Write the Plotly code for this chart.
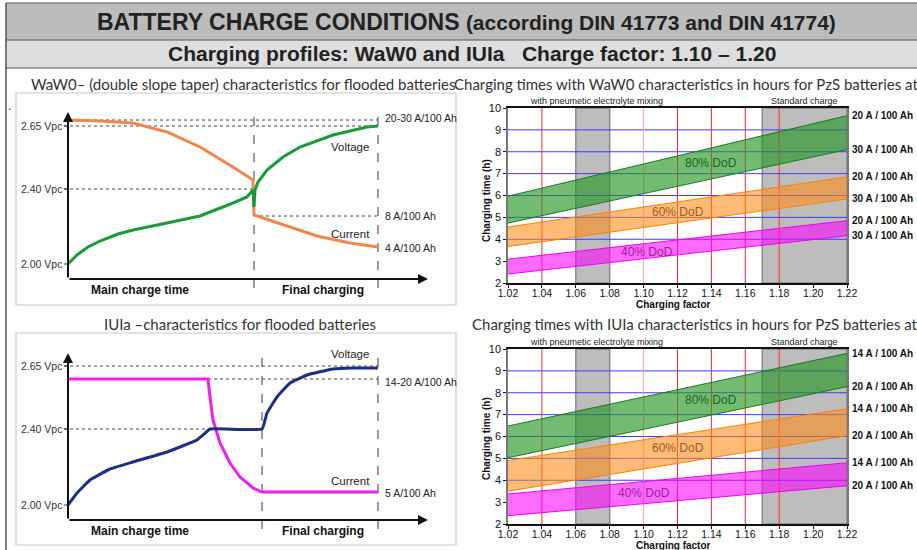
import plotly.graph_objects as go

W, H = 917, 550
def fx(px): return px / W
def fy(py): return 1 - py / H

# ---------------- DATA ----------------
# Schematic panels (time units 0..310, level units: axis baseline = 0)
vpc_levels = [153, 90, 15]
vpc_labels = ["2.65 Vpc", "2.40 Vpc", "2.00 Vpc"]
main_end_t = 186
final_end_t = 310

waw_t_cur = [0, 32, 65, 99, 132, 165, 185, 186, 189, 215, 249, 282, 310]
waw_cur = [159, 158, 156, 147, 132, 112, 99, 64, 63, 54, 43, 36, 32]
waw_t_vol = [0, 9, 20, 32, 50, 65, 99, 132, 165, 179, 185, 186, 187, 190, 199, 215, 232, 265, 299, 310]
waw_vol = [15, 24, 32, 38, 45, 49, 56, 63, 76, 82, 89, 72, 89, 97, 109, 122, 132, 144, 152, 153]
waw_cur_levels = [161, 63, 31]
waw_cur_labels = ["20-30 A/100 Ah", "8 A/100 Ah", "4 A/100 Ah"]

iu_main_end_t = 194
iu_vpc_levels = [154, 91, 15]
iu_t_cur = [0, 140, 142, 145, 152, 162, 172, 185, 194, 310]
iu_cur = [141, 141, 123, 100, 77, 57, 43, 32, 28, 28]
iu_t_vol = [0, 9, 22, 42, 65, 99, 129, 135, 142, 194, 199, 209, 222, 239, 265, 285, 310]
iu_vol = [15, 27, 40, 51, 58, 68, 80, 85, 91, 91, 107, 123, 137, 145, 151, 152, 152]
iu_cur_levels = [138, 27]
iu_cur_labels = ["14-20 A/100 Ah", "5 A/100 Ah"]

# Charging-time charts
factor = [1.02, 1.22]
x_ticks = [1.02, 1.04, 1.06, 1.08, 1.10, 1.12, 1.14, 1.16, 1.18, 1.20, 1.22]
x_tick_labels = ["1.02", "1.04", "1.06", "1.08", "1.10", "1.12", "1.14", "1.16", "1.18", "1.20", "1.22"]
y_ticks = [2, 3, 4, 5, 6, 7, 8, 9, 10]
red_lines = [1.04, 1.12, 1.14, 1.16, 1.18]
pink_lines = [1.10]
blue_lines = [4, 5, 6, 7, 8, 9]
gray_bands = [(1.06, 1.08), (1.17, 1.22)]

waw_bands = {
    "80% DoD": ([4.74, 8.10], [5.97, 9.65]),
    "60% DoD": ([3.67, 5.84], [4.56, 6.85]),
    "40% DoD": ([2.41, 4.16], [3.09, 4.85]),
}
waw_band_label_pos = {"80% DoD": (1.14, 7.48), "60% DoD": (1.12, 5.23), "40% DoD": (1.102, 3.42)}
waw_end_labels = ["20 A / 100 Ah", "30 A / 100 Ah"]

iu_bands = {
    "80% DoD": ([5.03, 8.28], [6.48, 9.80]),
    "60% DoD": ([3.50, 6.04], [4.90, 7.27]),
    "40% DoD": ([2.38, 3.75], [3.37, 4.80]),
}
iu_band_label_pos = {"80% DoD": (1.14, 7.67), "60% DoD": (1.12, 5.46), "40% DoD": (1.10, 3.40)}
iu_end_labels = ["14 A / 100 Ah", "20 A / 100 Ah"]

band_style = {
    "80% DoD": ("rgba(40,150,40,0.65)", "#1a7a1a", "#1f5f1f"),
    "60% DoD": ("rgba(255,140,20,0.58)", "#ff8000", "#9a5a20"),
    "40% DoD": ("rgba(255,0,255,0.58)", "#f000f0", "#9a209a"),
}

ARIAL = "Liberation Sans, Arial, sans-serif"
TITLEF = "Lato, Open Sans, sans-serif"

fig = go.Figure()
shapes = []
ann = []

def note(**kw):
    kw.setdefault("showarrow", False)
    kw.setdefault("xanchor", "center")
    kw.setdefault("yanchor", "middle")
    ann.append(kw)

# ---------------- header ----------------
shapes += [
    dict(type="rect", xref="paper", yref="paper", x0=fx(6), x1=1, y0=fy(40), y1=fy(3),
         fillcolor="#bcbcbc", line=dict(width=0), layer="below"),
    dict(type="rect", xref="paper", yref="paper", x0=fx(6), x1=1, y0=fy(68), y1=fy(40),
         fillcolor="#dedede", line=dict(width=0), layer="below"),
]
for py in (3, 40, 68):
    shapes.append(dict(type="line", xref="paper", yref="paper", x0=fx(6), x1=1, y0=fy(py), y1=fy(py),
                       line=dict(color="#555", width=1.2)))
shapes.append(dict(type="line", xref="paper", yref="paper", x0=fx(6), x1=fx(6), y0=0, y1=fy(3),
                   line=dict(color="#555", width=1.5)))

note(xref="paper", yref="paper", x=fx(466), y=fy(22),
     text="<b>BATTERY CHARGE CONDITIONS</b> <b><span style='font-size:21px'>(according DIN 41773 and DIN 41774)</span></b>",
     font=dict(family=ARIAL, size=23, color="#222"))
note(xref="paper", yref="paper", x=fx(472), y=fy(54),
     text="<b>Charging profiles: WaW0 and IUIa   Charge factor: 1.10 – 1.20</b>",
     font=dict(family=ARIAL, size=21, color="#222"))
note(xref="paper", yref="paper", x=fx(9), y=fy(106), text=".",
     font=dict(family=ARIAL, size=12, color="#222"))

# ---------------- panel titles ----------------
note(xref="paper", yref="paper", x=fx(29), y=fy(84), xanchor="left",
     text="WaW0– (double slope taper) characteristics for flooded batteries",
     font=dict(family=TITLEF, size=15, color="#333"))
note(xref="paper", yref="paper", x=fx(452), y=fy(84), xanchor="left",
     text="Charging times with WaW0 characteristics in hours for PzS batteries at °C",
     font=dict(family=TITLEF, size=15, color="#333"))
note(xref="paper", yref="paper", x=fx(240), y=fy(324),
     text="IUIa –characteristics for flooded batteries",
     font=dict(family=TITLEF, size=15, color="#333"))
note(xref="paper", yref="paper", x=fx(470), y=fy(324), xanchor="left",
     text="Charging times with IUIa characteristics in hours for PzS batteries at °C",
     font=dict(family=TITLEF, size=15, color="#333"))

# ---------------- schematic panels ----------------
def schematic(xr, yr, t_cur, cur, t_vol, vol, cur_col, vol_col, levels, bound_t,
              dotted, cur_levels, cur_labels, volt_lab_y, cur_lab_y, cur_shape, vol_shape):
    shapes.append(dict(type="rect", xref=f"{xr} domain", yref=f"{yr} domain", x0=0, x1=1, y0=0, y1=1,
                       line=dict(color="#c8c8c8", width=1.2), layer="below"))
    for (t0, t1, lv) in dotted:
        shapes.append(dict(type="line", xref=xr, yref=yr, x0=t0, x1=t1, y0=lv, y1=lv,
                           line=dict(color="#444", width=1, dash="dot"), layer="below"))
    for tv in (bound_t, final_end_t):
        shapes.append(dict(type="line", xref=xr, yref=yr, x0=tv, x1=tv, y0=-9, y1=167,
                           line=dict(color="#666", width=1.3, dash="dash"), layer="below"))
    for lv, lab in zip(levels, vpc_labels):
        note(xref=xr, yref=yr, x=-4, y=lv, xanchor="right", text=lab,
             font=dict(family=ARIAL, size=10.5, color="#333"))
        shapes.append(dict(type="line", xref=xr, yref=yr, x0=-4, x1=0, y0=lv, y1=lv,
                           line=dict(color="#333", width=1)))
    ann.append(dict(xref=xr, yref=yr, axref=xr, ayref=yr, x=0, y=167, ax=0, ay=0, text="",
                    showarrow=True, arrowhead=2, arrowsize=1, arrowwidth=2, arrowcolor="#111"))
    ann.append(dict(xref=xr, yref=yr, axref=xr, ayref=yr, x=360, y=0, ax=0, ay=0, text="",
                    showarrow=True, arrowhead=2, arrowsize=1, arrowwidth=2, arrowcolor="#111"))
    fig.add_trace(go.Scatter(x=t_cur, y=cur, mode="lines",
                             line=dict(color=cur_col, width=3, shape=cur_shape, smoothing=0.3),
                             xaxis=xr, yaxis=yr, showlegend=False, hoverinfo="skip"))
    fig.add_trace(go.Scatter(x=t_vol, y=vol, mode="lines",
                             line=dict(color=vol_col, width=3, shape=vol_shape, smoothing=0.3),
                             xaxis=xr, yaxis=yr, showlegend=False, hoverinfo="skip"))
    for lv, lab in zip(cur_levels, cur_labels):
        note(xref=xr, yref=yr, x=315, y=lv, xanchor="left", text=lab,
             font=dict(family=ARIAL, size=10.5, color="#222"))
    note(xref=xr, yref=yr, x=282, y=volt_lab_y, text="Voltage",
         font=dict(family=ARIAL, size=11.5, color="#222"))
    note(xref=xr, yref=yr, x=282, y=cur_lab_y, text="Current",
         font=dict(family=ARIAL, size=11.5, color="#222"))
    note(xref=xr, yref=yr, x=72, y=-11, text="<b>Main charge time</b>",
         font=dict(family=ARIAL, size=12, color="#111"))
    note(xref=xr, yref=yr, x=255, y=-11, text="<b>Final charging</b>",
         font=dict(family=ARIAL, size=12, color="#111"))

schematic("x", "y", waw_t_cur, waw_cur, waw_t_vol, waw_vol, "#f0874a", "#1a9a3a",
          vpc_levels, main_end_t,
          [(-4, final_end_t, waw_cur[0]), (-4, final_end_t, vpc_levels[0]),
           (-4, main_end_t, vpc_levels[1]), (main_end_t, final_end_t, waw_cur_levels[1])],
          waw_cur_levels, waw_cur_labels, 132, 45, "linear", "linear")
schematic("x3", "y3", iu_t_cur, iu_cur, iu_t_vol, iu_vol, "#f01ef0", "#1c2f80",
          iu_vpc_levels, iu_main_end_t,
          [(-4, final_end_t, iu_vpc_levels[0]), (140, final_end_t, iu_cur[0]),
           (-4, iu_main_end_t, iu_vpc_levels[1])],
          iu_cur_levels, iu_cur_labels, 166, 39, "linear", "spline")

# ---------------- charging time charts ----------------
def timechart(xr, yr, bands, label_pos, end_labels, title_py, axis_title_py, fac_py):
    for b0, b1 in gray_bands:
        shapes.append(dict(type="rect", xref=xr, yref=f"{yr} domain", x0=b0, x1=b1, y0=0, y1=1,
                           fillcolor="#bdbdbd", line=dict(color="#8a8a8a", width=1.5), layer="below"))
    for v in blue_lines:
        shapes.append(dict(type="line", xref=f"{xr} domain", yref=yr, x0=0, x1=1, y0=v, y1=v,
                           line=dict(color="#3a3aff", width=1), layer="below"))
    for v in red_lines:
        shapes.append(dict(type="line", xref=xr, yref=f"{yr} domain", x0=v, x1=v, y0=0, y1=1,
                           line=dict(color="#ff2a2a", width=1), layer="below"))
    for v in pink_lines:
        shapes.append(dict(type="line", xref=xr, yref=f"{yr} domain", x0=v, x1=v, y0=0, y1=1,
                           line=dict(color="#ffa0a0", width=1), layer="below"))
    for name, (lo, hi) in bands.items():
        fill, edge, txt = band_style[name]
        fig.add_trace(go.Scatter(x=factor, y=lo, mode="lines", line=dict(color=edge, width=1),
                                 xaxis=xr, yaxis=yr, showlegend=False, hoverinfo="skip"))
        fig.add_trace(go.Scatter(x=factor, y=hi, mode="lines", line=dict(color=edge, width=1),
                                 fill="tonexty", fillcolor=fill,
                                 xaxis=xr, yaxis=yr, showlegend=False, hoverinfo="skip"))
        lx, ly = label_pos[name]
        note(xref=xr, yref=yr, x=lx, y=ly, text=name, font=dict(family=ARIAL, size=12, color=txt))
        note(xref="paper", yref=yr, x=fx(850), y=hi[1], xanchor="left",
             text=f"<b>{end_labels[0]}</b>", font=dict(family=ARIAL, size=10, color="#111"))
        note(xref="paper", yref=yr, x=fx(850), y=lo[1], xanchor="left",
             text=f"<b>{end_labels[1]}</b>", font=dict(family=ARIAL, size=10, color="#111"))
    note(xref=xr, yref="paper", x=1.0725, y=fy(title_py),
         text="with pneumetic electrolyte mixing", font=dict(family=ARIAL, size=9, color="#222"))
    note(xref=xr, yref="paper", x=1.195, y=fy(title_py),
         text="Standard charge", font=dict(family=ARIAL, size=9, color="#222"))
    note(xref="paper", yref="paper", x=fx(486), y=fy(axis_title_py), textangle=-90,
         text="<b>Charging time (h)</b>", font=dict(family=ARIAL, size=10, color="#111"))
    note(xref="paper", yref="paper", x=fx(673), y=fy(fac_py),
         text="<b>Charging factor</b>", font=dict(family=ARIAL, size=10, color="#111"))

timechart("x2", "y2", waw_bands, waw_band_label_pos, waw_end_labels, 101, 200, 304)
timechart("x4", "y4", iu_bands, iu_band_label_pos, iu_end_labels, 342, 438, 545)

hidden = dict(visible=False, showgrid=False, zeroline=False, fixedrange=True, automargin=False)
xt = dict(range=[1.02, 1.22], tickvals=x_ticks, ticktext=x_tick_labels, ticks="outside", ticklen=3,
          ticklabelstandoff=-3,
          showgrid=False, zeroline=False, showline=True, mirror=True, linecolor="#111", linewidth=1.5,
          tickfont=dict(family=ARIAL, size=10.5, color="#111"), tickcolor="#111", automargin=False)
yt = dict(range=[2, 10], tickvals=y_ticks, ticks="outside", ticklen=3, showgrid=False, zeroline=False,
          showline=True, mirror=True, linecolor="#777", linewidth=1.5,
          tickfont=dict(family=ARIAL, size=11, color="#111"), tickcolor="#111", automargin=False)

fig.update_layout(
    width=W, height=H, margin=dict(l=0, r=0, t=0, b=0, pad=0, autoexpand=False),
    paper_bgcolor="white", plot_bgcolor="white", showlegend=False,
    xaxis=dict(domain=[fx(16), fx(456)], range=[-52, 388], anchor="y", **hidden),
    yaxis=dict(domain=[fy(305), fy(93)], range=[-26, 186], anchor="x", **hidden),
    xaxis3=dict(domain=[fx(16), fx(456)], range=[-52, 388], anchor="y3", **hidden),
    yaxis3=dict(domain=[fy(545), fy(333)], range=[-25, 187], anchor="x3", **hidden),
    xaxis2=dict(domain=[fx(508), fx(847)], anchor="y2", **xt),
    yaxis2=dict(domain=[fy(283), fy(108)], anchor="x2", **yt),
    xaxis4=dict(domain=[fx(508), fx(847)], anchor="y4", **xt),
    yaxis4=dict(domain=[fy(524), fy(349)], anchor="x4", **yt),
    shapes=shapes, annotations=ann,
)

fig.write_html("out.html", config={"displayModeBar": False},
               post_script="document.body.style.margin='0';document.body.style.overflow='hidden';")
